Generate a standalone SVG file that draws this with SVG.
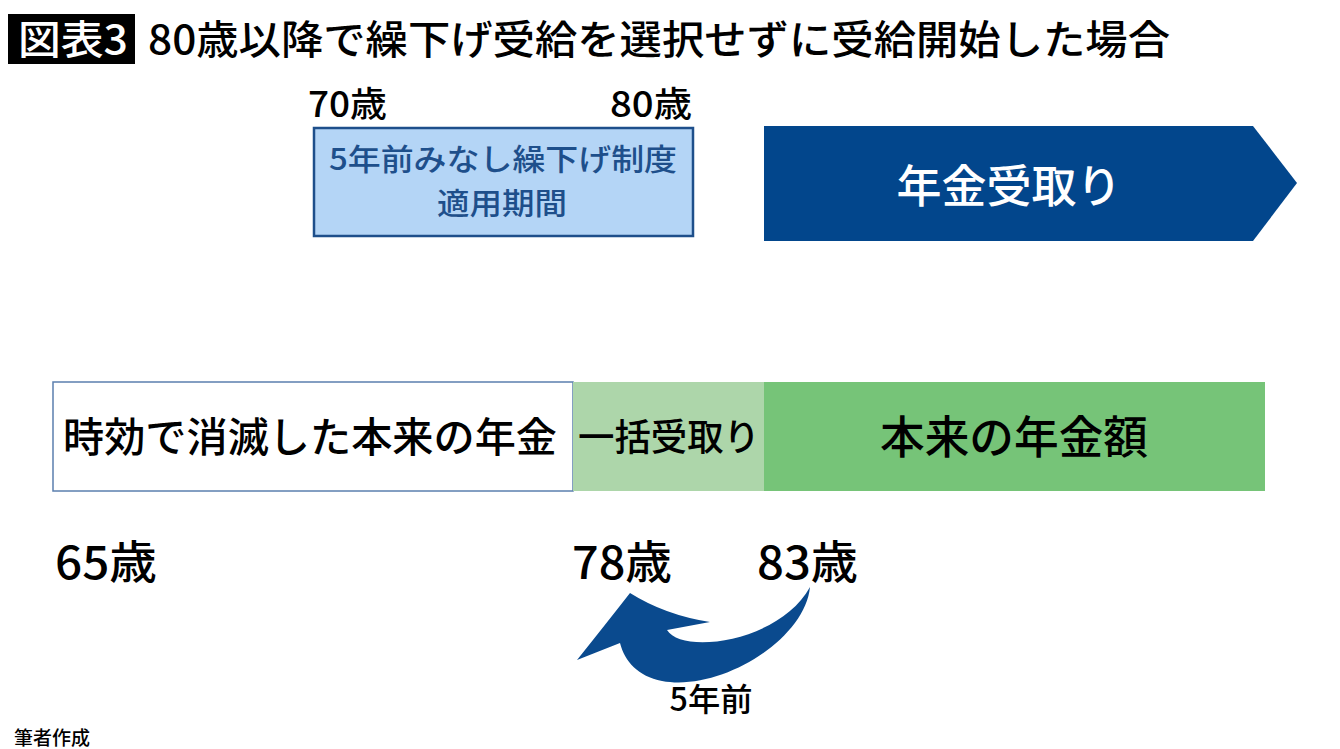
<svg xmlns="http://www.w3.org/2000/svg" width="1340" height="749" viewBox="0 0 1340 749">
<style>
text{font-family:"Noto Sans CJK JP","Noto Sans",sans-serif;font-weight:500;}
.b{fill:#000;}
.c{text-anchor:middle;}
</style>
<rect width="1340" height="749" fill="#fff"/>
<g id="title">
<rect x="8" y="14" width="127" height="50" fill="#000"/>
<text x="18" y="54" font-size="40" fill="#fff" textLength="110" lengthAdjust="spacingAndGlyphs">図表3</text>
<text x="148" y="54" font-size="40" class="b" textLength="1022" lengthAdjust="spacingAndGlyphs">80歳以降で繰下げ受給を選択せずに受給開始した場合</text>
</g>
<g id="age70"><text x="308" y="117" font-size="35" class="b" textLength="79" lengthAdjust="spacingAndGlyphs">70歳</text></g>
<g id="age80"><text x="610" y="117" font-size="35" class="b" textLength="82" lengthAdjust="spacingAndGlyphs">80歳</text></g>
<g id="period">
<rect x="314" y="128" width="379" height="108" fill="#B4D5F6" stroke="#1E4F8B" stroke-width="2.5"/>
<text x="503" y="170" font-size="30" fill="#1E4F8B" class="c" textLength="348" lengthAdjust="spacingAndGlyphs">5年前みなし繰下げ制度</text>
<text x="502" y="214" font-size="30" fill="#1E4F8B" class="c" textLength="130" lengthAdjust="spacingAndGlyphs">適用期間</text>
</g>
<g id="receive">
<polygon points="764,126 1253,126 1297,183 1253,241 764,241" fill="#02468C"/>
<text x="1009" y="203" font-size="45" fill="#fff" class="c">年金受取り</text>
</g>
<g id="lost">
<rect x="53" y="382" width="520" height="109" fill="#fff" stroke="#5B7FAE" stroke-width="1.5"/>
<text x="310" y="452" font-size="41" class="b c" textLength="494" lengthAdjust="spacingAndGlyphs">時効で消滅した本来の年金</text>
</g>
<g id="lump">
<rect x="573" y="382" width="191" height="109" fill="#ADD6AA"/>
<text x="669" y="451" font-size="37" class="b c" textLength="182" lengthAdjust="spacingAndGlyphs">一括受取り</text>
</g>
<g id="original">
<rect x="764" y="382" width="501" height="109" fill="#76C478"/>
<text x="1014" y="454" font-size="45" class="b c" textLength="268" lengthAdjust="spacingAndGlyphs">本来の年金額</text>
</g>
<g id="age65"><text x="55" y="579" font-size="45" class="b" textLength="102" lengthAdjust="spacingAndGlyphs">65歳</text></g>
<g id="age78"><text x="572" y="579" font-size="45" class="b" textLength="100" lengthAdjust="spacingAndGlyphs">78歳</text></g>
<g id="age83"><text x="757" y="579" font-size="45" class="b" textLength="101" lengthAdjust="spacingAndGlyphs">83歳</text></g>
<g id="connectors">
<path d="M630,593 Q665,615 710,622 L667,630 C682,655 780,642 810,587 C805,640 720,692 662,681 C638,676 625,662 620,643 L577,660 Q605,625 630,593 Z" fill="#0A4A8E"/>
</g>
<g id="label5"><text x="711" y="711" font-size="32" class="b c" textLength="83" lengthAdjust="spacingAndGlyphs">5年前</text></g>
<g id="source"><text x="14" y="745" font-size="19" class="b" textLength="76" lengthAdjust="spacingAndGlyphs">筆者作成</text></g>
</svg>
